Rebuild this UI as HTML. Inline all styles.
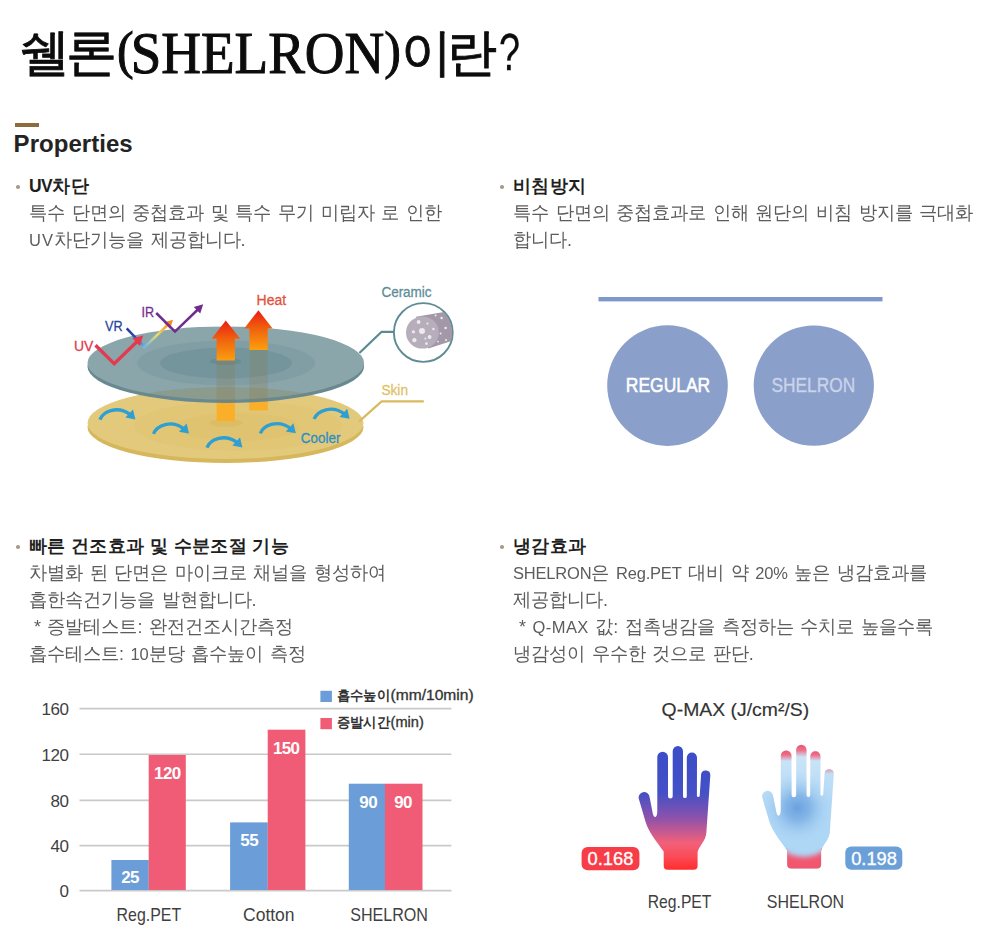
<!DOCTYPE html>
<html lang="ko">
<head>
<meta charset="utf-8">
<title>쉘론(SHELRON)이란?</title>
<style>
html,body{margin:0;padding:0;background:#fff;}
body{font-family:"Liberation Sans",sans-serif;color:#5a5a5a;}
#page{position:relative;width:1000px;height:935px;overflow:hidden;background:#fff;}
#page *{box-sizing:border-box;}
.abs{position:absolute;white-space:nowrap;margin:0;}
h1.title{position:absolute;left:19px;top:18.5px;margin:0;font-weight:normal;font-size:51px;line-height:66px;color:#0c0c0c;white-space:nowrap;letter-spacing:-4px;-webkit-text-stroke:0.9px #0c0c0c;}
h1.title .lat{font-family:"Liberation Serif",serif;font-size:55px;letter-spacing:0;display:inline-block;line-height:66px;vertical-align:baseline;position:relative;top:3px;transform:scaleY(1.07);transform-origin:0 51px;-webkit-text-stroke:0.95px #0c0c0c;margin:0 0.5px 0 4px;}
h1.title .par{font-size:50px;position:relative;top:-5px;}
h1.title .par.l{margin-right:-3px;}
h1.title .tail{letter-spacing:-6.4px;}
h1.title .q{display:inline-block;letter-spacing:0;transform:scaleX(.74);transform-origin:0 50%;-webkit-text-stroke:0.3px #0c0c0c;margin-left:8px;}
.rule{position:absolute;left:15px;top:123px;width:24px;height:4px;background:#8c6c3c;}
h2.props{position:absolute;left:13.6px;top:130px;margin:0;font-size:24px;line-height:28px;font-weight:bold;color:#232323;letter-spacing:0.04px;white-space:nowrap;}
.dot{position:absolute;width:4px;height:4px;border-radius:50%;background:#a59784;}
h3.hd{position:absolute;margin:0;font-size:17.5px;line-height:27px;font-weight:bold;color:#1f1f1f;white-space:nowrap;letter-spacing:.4px;}
p.ln{position:absolute;margin:0;font-size:18px;line-height:27px;color:#5c5c5c;white-space:nowrap;word-spacing:1.6px;transform:scaleY(1.04);transform-origin:0 50%;}
p.ln .en{font-size:16.5px;letter-spacing:-.2px;}
svg{position:absolute;left:0;top:0;}
svg text{font-family:"Liberation Sans",sans-serif;}
</style>
</head>
<body>
<div id="page">

<h1 class="title">쉘론<span class="lat"><span class="par l">(</span>SHELRON<span class="par">)</span></span><span class="tail">이란</span><span class="q">?</span></h1>
<div class="rule"></div>
<h2 class="props">Properties</h2>

<!-- section 1 -->
<span class="dot" style="left:15.6px;top:185px"></span>
<h3 class="hd" style="left:29px;top:173px"><span style="letter-spacing:-.6px">UV</span>차단</h3>
<p class="ln" style="left:29px;top:200px">특수 단면의 중첩효과 및 특수 무기 미립자 로 인한</p>
<p class="ln" style="left:29px;top:227px"><span class="en" style="letter-spacing:1px">UV</span>차단기능을 제공합니다.</p>

<!-- section 2 -->
<span class="dot" style="left:499.5px;top:185px"></span>
<h3 class="hd" style="left:513px;top:173px">비침방지</h3>
<p class="ln" style="left:513px;top:200px">특수 단면의 중첩효과로 인해 원단의 비침 방지를 극대화</p>
<p class="ln" style="left:513px;top:227px">합니다.</p>

<!-- section 3 -->
<span class="dot" style="left:15.6px;top:545px"></span>
<h3 class="hd" style="left:29px;top:533px">빠른 건조효과 및 수분조절 기능</h3>
<p class="ln" style="left:29px;top:560px">차별화 된 단면은 마이크로 채널을 형성하여</p>
<p class="ln" style="left:29px;top:587px">흡한속건기능을 발현합니다.</p>
<p class="ln" style="left:34px;top:614px;word-spacing:1.4px">* 증발테스트: 완전건조시간측정</p>
<p class="ln" style="left:29px;top:641px">흡수테스트: <span class="en">10</span>분당 흡수높이 측정</p>

<!-- section 4 -->
<span class="dot" style="left:499.5px;top:545px"></span>
<h3 class="hd" style="left:513px;top:533px">냉감효과</h3>
<p class="ln" style="left:513px;top:560px"><span class="en">SHELRON</span>은 <span class="en">Reg.PET</span> 대비 약 <span class="en">20%</span> 높은 냉감효과를</p>
<p class="ln" style="left:513px;top:587px">제공합니다.</p>
<p class="ln" style="left:519px;top:614px">* <span class="en" style="letter-spacing:.4px">Q-MAX</span> 값: 접촉냉감을 측정하는 수치로 높을수록</p>
<p class="ln" style="left:513px;top:641px">냉감성이 우수한 것으로 판단.</p>

<svg id="art" width="1000" height="935" viewBox="0 0 1000 935">
<defs>
  <linearGradient id="gHeat" x1="0" y1="0" x2="0" y2="1">
    <stop offset="0" stop-color="#ec1b15"/><stop offset="0.45" stop-color="#f0600d"/><stop offset="1" stop-color="#fb9f10"/>
  </linearGradient>
  <linearGradient id="gVR" gradientUnits="userSpaceOnUse" x1="145" y1="346" x2="171" y2="321">
    <stop offset="0" stop-color="#6db9e8"/><stop offset="0.45" stop-color="#e9dc6a"/><stop offset="1" stop-color="#f28a1e"/>
  </linearGradient>
  <linearGradient id="gVRd" gradientUnits="userSpaceOnUse" x1="127" y1="329" x2="145" y2="346">
    <stop offset="0" stop-color="#1f3f99"/><stop offset="0.6" stop-color="#2c55b0"/><stop offset="1" stop-color="#6db9e8"/>
  </linearGradient>
  <clipPath id="cTop"><ellipse cx="225.8" cy="363" rx="138.3" ry="36.6"/></clipPath>
  <clipPath id="cCer"><circle cx="423.6" cy="332.5" r="28.6"/></clipPath>
</defs>

<!-- ===== illustration 1 : UV blocking ===== -->
<g id="ill1">
  <!-- skin disc -->
  <ellipse cx="225.5" cy="427" rx="138" ry="36" fill="#d6b75c"/>
  <ellipse cx="225.5" cy="423" rx="138" ry="36" fill="#e3c97b"/>
  <ellipse cx="238" cy="426" rx="104" ry="25" fill="#e1c676"/>
  <ellipse cx="238" cy="427" rx="62" ry="14" fill="#dfc370"/>
  <ellipse cx="226" cy="422.8" rx="16.5" ry="4" fill="#dcbc64"/>
  <!-- lower (solid) parts of heat shafts -->
  <rect x="216.6" y="398" width="18.3" height="23" fill="#fbae28"/>
  <rect x="249.4" y="396" width="18.3" height="14.4" fill="#fbae28"/>
  <!-- ceramic disc -->
  <ellipse cx="225.8" cy="366.4" rx="138.3" ry="36.6" fill="#68898f"/>
  <ellipse cx="225.8" cy="363" rx="138.3" ry="36.6" fill="#8ba6ab"/>
  <g clip-path="url(#cTop)"><ellipse cx="225.5" cy="423" rx="138" ry="36" fill="#8a7a3c" fill-opacity="0.26"/></g>
  <ellipse cx="226" cy="363" rx="89" ry="22.5" fill="#7f9da4" fill-opacity="0.9"/>
  <ellipse cx="226" cy="363" rx="66" ry="15.5" fill="#73949c" fill-opacity="0.9"/>
  <ellipse cx="225.5" cy="361.5" rx="16" ry="3.6" fill="#6a8c95"/>
  <!-- see-through shafts -->
  <rect x="216.6" y="360" width="18.3" height="41.6" fill="#8d7b4c" fill-opacity="0.26"/>
  <rect x="249.4" y="349" width="18.3" height="51.6" fill="#8d7b4c" fill-opacity="0.26"/>
  <!-- heat arrows -->
  <path d="M225.8 320.5 L240.2 338.8 L234.9 338.8 L234.9 360.6 L216.6 360.6 L216.6 338.8 L211.6 338.8 Z" fill="url(#gHeat)"/>
  <path d="M258.4 310.2 L272.6 328.6 L267.7 328.6 L267.7 350 L249.4 350 L249.4 328.6 L244.2 328.6 Z" fill="url(#gHeat)"/>
  <!-- VR ray -->
  <path d="M126.7 328.3 L144.5 347.2" fill="none" stroke="url(#gVRd)" stroke-width="2.5"/>
  <path d="M144.3 347.4 L167.6 325" fill="none" stroke="url(#gVR)" stroke-width="2.5" stroke-linecap="round"/>
  <path d="M173 319.8 L170 329 L163.6 322.4 Z" fill="#f28a1e"/>
  <!-- UV ray -->
  <path d="M95.5 345.2 L114.2 363.6 L137.4 341.2" fill="none" stroke="#e23a50" stroke-width="3.4" stroke-linejoin="miter"/>
  <path d="M143.2 335.6 L139.8 346 L132.4 338.2 Z" fill="#e23a50"/>
  <!-- IR ray -->
  <path d="M156.2 313 L175 331.6 L198.4 309" fill="none" stroke="#6f2c90" stroke-width="2.5" stroke-linejoin="miter"/>
  <path d="M203.2 304.2 L200.2 313.6 L193.8 307 Z" fill="#6f2c90"/>
  <!-- water arrows -->
  <g id="wa">
    <path d="M99.9 419.6 C103.5 410.8 118 405.6 129.6 414.2" fill="none" stroke="#2d9fd3" stroke-width="3.3"/>
    <path d="M135.4 419.4 L125.4 417.6 L133 409.4 Z" fill="#2d9fd3"/>
  </g>
  <use href="#wa" x="53.6" y="14.2"/>
  <use href="#wa" x="107" y="28"/>
  <use href="#wa" x="160.4" y="13.8"/>
  <use href="#wa" x="214.2" y="-0.6"/>
  <!-- leader lines -->
  <path d="M359.4 353 L381.6 331.8 L394 331.8" fill="none" stroke="#5b8a93" stroke-width="2.2"/>
  <path d="M359.2 421.4 L381.6 401.4 L423.8 401.4" fill="none" stroke="#d8bb5e" stroke-width="2.2"/>
  <!-- ceramic magnifier -->
  <circle cx="423.3" cy="332.5" r="29.4" fill="#fff" stroke="#5f8c94" stroke-width="1.9"/>
  <g clip-path="url(#cCer)">
    <path d="M416 316.8 L447 311.4 L456 339.6 L428.4 348.6 Z" fill="#a298a7"/>
    <ellipse cx="422.4" cy="332.5" rx="16.4" ry="16.1" fill="#b7aebb"/>
    <g fill="#ecebf0">
      <circle cx="418.6" cy="322" r="1.9"/><circle cx="422" cy="331" r="3"/><circle cx="413.4" cy="331.8" r="1.6"/>
      <circle cx="414.4" cy="340.2" r="2.1"/><circle cx="429.6" cy="337" r="1.9"/><circle cx="426.4" cy="343.6" r="1.3"/>
      <circle cx="427.4" cy="323.6" r="1.1"/><circle cx="433.4" cy="329" r="1.2"/><circle cx="425.4" cy="338.6" r="1"/>
      <circle cx="435.6" cy="315.6" r="1"/><circle cx="441.6" cy="318" r="1.2"/><circle cx="445.6" cy="328" r="1.3"/>
      <circle cx="440.6" cy="333.6" r="1"/><circle cx="446" cy="340" r="1.1"/><circle cx="438" cy="341.6" r="0.9"/>
    </g>
  </g>
  <!-- labels -->
  <g font-size="15.4" stroke-width="0.3">
    <text x="74" y="351.3" fill="#e23a50" stroke="#e23a50" textLength="19.4" lengthAdjust="spacingAndGlyphs">UV</text>
    <text x="105" y="331.4" fill="#26479f" stroke="#26479f" textLength="17.6" lengthAdjust="spacingAndGlyphs">VR</text>
    <text x="141.6" y="316.6" fill="#7a2c90" stroke="#7a2c90" textLength="12.6" lengthAdjust="spacingAndGlyphs">IR</text>
    <text x="256.6" y="304.8" fill="#e2523c" stroke="#e2523c" textLength="29.6" lengthAdjust="spacingAndGlyphs">Heat</text>
    <text x="381.4" y="297.1" fill="#5e8d97" stroke="#5e8d97" textLength="50.2" lengthAdjust="spacingAndGlyphs">Ceramic</text>
    <text x="381.4" y="394.8" fill="#dfc166" stroke="#dfc166" textLength="26.6" lengthAdjust="spacingAndGlyphs">Skin</text>
    <text x="300.8" y="443.1" fill="#2b8fc4" stroke="#2b8fc4" textLength="39.6" lengthAdjust="spacingAndGlyphs">Cooler</text>
  </g>
</g>

<!-- ===== illustration 2 : see-through prevention ===== -->
<g id="ill2">
  <rect x="598.5" y="297" width="284" height="4.4" fill="#7f97cb"/>
  <circle cx="667.5" cy="385.6" r="60.3" fill="#8a9fca"/>
  <circle cx="813.8" cy="385.6" r="60.1" fill="#8a9fca"/>
  <text x="625.8" y="392" font-size="21" textLength="84.4" lengthAdjust="spacingAndGlyphs" fill="#ffffff" stroke="#ffffff" stroke-width="0.55">REGULAR</text>
  <text x="771.4" y="392" font-size="21" textLength="83.8" lengthAdjust="spacingAndGlyphs" fill="#cbd4ea" stroke="#cbd4ea" stroke-width="0.35">SHELRON</text>
</g>
<!-- ===== illustration 3 : bar chart ===== -->
<g id="ill3">
  <g stroke="#c9c9c9" stroke-width="1.6">
    <line x1="79.5" y1="708.6" x2="451.4" y2="708.6"/>
    <line x1="79.5" y1="754.2" x2="451.4" y2="754.2"/>
    <line x1="79.5" y1="800.4" x2="451.4" y2="800.4"/>
    <line x1="79.5" y1="845.6" x2="451.4" y2="845.6"/>
    <line x1="79.5" y1="890.6" x2="451.4" y2="890.6"/>
  </g>
  <g font-size="17" fill="#3f3f3f" text-anchor="end" letter-spacing="-0.5">
    <text x="68.4" y="715.2">160</text>
    <text x="68.4" y="760.8">120</text>
    <text x="68.4" y="807">80</text>
    <text x="68.4" y="852.2">40</text>
    <text x="68.4" y="897.2">0</text>
  </g>
  <g fill="#6b9dd8">
    <rect x="111.4" y="860" width="37.4" height="30"/>
    <rect x="230.1" y="822.4" width="37.7" height="67.6"/>
    <rect x="348.8" y="783.7" width="36.3" height="106.3"/>
  </g>
  <g fill="#f05c75">
    <rect x="148.7" y="755" width="37.1" height="135"/>
    <rect x="267.7" y="729.7" width="37.7" height="160.3"/>
    <rect x="385" y="783.7" width="37.5" height="106.3"/>
  </g>
  <g font-size="17" font-weight="bold" fill="#ffffff" text-anchor="middle" letter-spacing="-0.6">
    <text x="130" y="883">25</text>
    <text x="167.4" y="778.8">120</text>
    <text x="249.2" y="845.8">55</text>
    <text x="286.2" y="753.8">150</text>
    <text x="368.2" y="808.4">90</text>
    <text x="403" y="808.4">90</text>
  </g>
  <g font-size="18.5" fill="#3f3f3f">
    <text x="116.6" y="921" textLength="64.6" lengthAdjust="spacingAndGlyphs">Reg.PET</text>
    <text x="243" y="921" textLength="51.6" lengthAdjust="spacingAndGlyphs">Cotton</text>
    <text x="350.2" y="921" textLength="77.8" lengthAdjust="spacingAndGlyphs">SHELRON</text>
  </g>
  <rect x="320.4" y="690.8" width="11.5" height="11.2" fill="#6b9dd8"/>
  <rect x="320.4" y="718" width="11.5" height="11.2" fill="#f05c75"/>
  <g font-size="14" font-weight="bold" fill="#333333">
    <text x="336.8" y="699.8" textLength="53.4" lengthAdjust="spacingAndGlyphs">흡수높이</text>
    <text x="336.8" y="727" textLength="53.4" lengthAdjust="spacingAndGlyphs">증발시간</text>
  </g>
  <g font-size="15.5" fill="#333333" stroke="#333333" stroke-width="0.35">
    <text x="390.6" y="700.2" textLength="83" lengthAdjust="spacingAndGlyphs">(mm/10min)</text>
    <text x="390.6" y="727.4" textLength="33.2" lengthAdjust="spacingAndGlyphs">(min)</text>
  </g>
</g>

<!-- ===== illustration 4 : Q-MAX hands ===== -->
<defs>
  <path id="hand" d="M663.7 865.7 Q663.7 869.7 667.7 869.7 L693.6 869.7 Q697.6 869.7 697.6 865.7 L697.6 852 C699.5 845 706 841 706.4 832 L710.3 775.4 A4.65 4.65 0 0 0 701.1 774.2 L699.7 796 A1.5 1.5 0 0 1 696.9 796 L697 757.5 A5.1 5.1 0 0 0 686.8 757.5 L686.8 796.2 A1.9 1.9 0 0 1 683 796.2 L683 751.2 A5.15 5.15 0 0 0 672.7 751.2 L672.7 796.2 A2.35 2.35 0 0 1 668 796.2 L668 757 A5.35 5.35 0 0 0 657.3 757 L657.3 811 C657.3 818.5 653.8 818.5 652.8 813.5 L649.4 796.2 A5.45 5.45 0 0 0 638.8 798.8 L645.6 822 C648.5 832 657 842 663.7 851.5 Z"/>
  <clipPath id="cHand2"><use href="#hand" x="123.5" y="-1.2"/></clipPath>
  <linearGradient id="gHand1" gradientUnits="userSpaceOnUse" x1="0" y1="746" x2="0" y2="870">
    <stop offset="0" stop-color="#3b4dc8"/><stop offset="0.38" stop-color="#4450c6"/><stop offset="0.58" stop-color="#8c52ac"/>
    <stop offset="0.78" stop-color="#f2607a"/><stop offset="0.9" stop-color="#fb4a55"/><stop offset="1" stop-color="#ff2c2c"/>
  </linearGradient>
  <linearGradient id="gHand2" gradientUnits="userSpaceOnUse" x1="0" y1="744" x2="0" y2="869">
    <stop offset="0" stop-color="#d2e8f9"/><stop offset="0.32" stop-color="#bcddf6"/><stop offset="0.5" stop-color="#b0d7f5"/><stop offset="1" stop-color="#aed6f5"/>
  </linearGradient>
  <radialGradient id="gPalm" gradientUnits="userSpaceOnUse" cx="797.4" cy="808" r="36">
    <stop offset="0" stop-color="#6aa1dd"/><stop offset="0.35" stop-color="#7db0e5" stop-opacity="0.85"/><stop offset="0.7" stop-color="#9cc8ef" stop-opacity="0.45"/><stop offset="1" stop-color="#aed6f5" stop-opacity="0"/>
  </radialGradient>
  <filter id="fSoft" x="-20%" y="-20%" width="140%" height="140%"><feGaussianBlur stdDeviation="2.4"/></filter>
  <linearGradient id="gTip" x1="0" y1="0" x2="0" y2="1">
    <stop offset="0" stop-color="#f04a66"/><stop offset="0.5" stop-color="#f2607a" stop-opacity="0.9"/><stop offset="1" stop-color="#f2607a" stop-opacity="0"/>
  </linearGradient>
  <linearGradient id="gWrist" x1="0" y1="0" x2="0" y2="1">
    <stop offset="0" stop-color="#f2607a" stop-opacity="0"/><stop offset="0.5" stop-color="#f2566f" stop-opacity="0.95"/><stop offset="1" stop-color="#f04a66"/>
  </linearGradient>
</defs>
<g id="ill4">
  <text x="661.6" y="715.6" font-size="18.5" fill="#333333" stroke="#333333" stroke-width="0.15" textLength="147.6" lengthAdjust="spacingAndGlyphs">Q-MAX (J/cm²/S)</text>
  <use href="#hand" fill="url(#gHand1)"/>
  <use href="#hand" x="123.5" y="-1.2" fill="url(#gHand2)"/>
  <g clip-path="url(#cHand2)">
    <rect x="784" y="848" width="40" height="22" fill="#f2566f"/>
    <ellipse cx="803.6" cy="837.5" rx="27" ry="19.5" fill="#aed6f5" filter="url(#fSoft)"/>
    <ellipse cx="797.4" cy="808" rx="34" ry="38" fill="url(#gPalm)"/>
    <rect x="780" y="749" width="12" height="12" fill="url(#gTip)"/>
    <rect x="795" y="743" width="12" height="14" fill="url(#gTip)"/>
    <rect x="809" y="749" width="12" height="12" fill="url(#gTip)"/>
    <rect x="823" y="767" width="12" height="7" fill="url(#gTip)" opacity="0.45"/>
  </g>
  <rect x="581.6" y="847" width="57.8" height="23.2" rx="6" fill="#f73d47"/>
  <rect x="845.3" y="846.6" width="57" height="23.2" rx="6" fill="#6a9fd8"/>
  <g font-size="18" fill="#ffffff" stroke="#ffffff" stroke-width="0.3">
    <text x="587.6" y="865.4" textLength="45.8" lengthAdjust="spacingAndGlyphs">0.168</text>
    <text x="851.2" y="865" textLength="45.6" lengthAdjust="spacingAndGlyphs">0.198</text>
  </g>
  <g font-size="18.5" fill="#3f3f3f">
    <text x="647.8" y="908" textLength="63.6" lengthAdjust="spacingAndGlyphs">Reg.PET</text>
    <text x="766.8" y="908" textLength="77.4" lengthAdjust="spacingAndGlyphs">SHELRON</text>
  </g>
</g>
</svg>

</div>
</body>
</html>
